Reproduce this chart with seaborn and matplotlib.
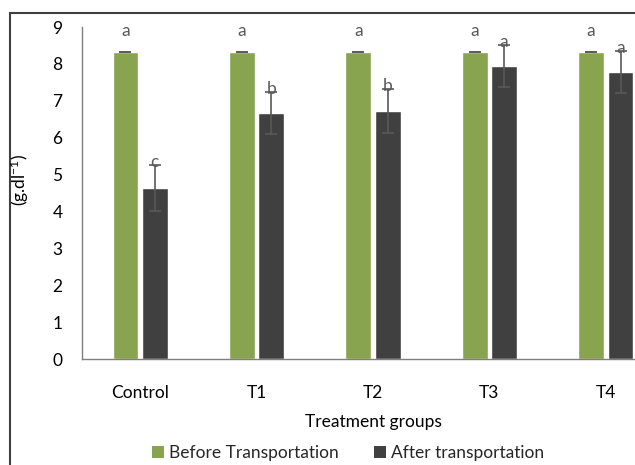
import matplotlib
matplotlib.use("Agg")
import matplotlib.pyplot as plt
import seaborn as sns
import pandas as pd
import numpy as np
from matplotlib.patches import Rectangle, Patch

groups = ["Control", "T1", "T2", "T3", "T4"]
before = [8.32, 8.32, 8.32, 8.32, 8.32]
before_err = [0.01, 0.01, 0.01, 0.01, 0.01]
after = [4.63, 6.67, 6.72, 7.94, 7.78]
after_err = [0.63, 0.58, 0.60, 0.58, 0.58]
before_letters = ["a", "a", "a", "a", "a"]
after_letters = ["c", "b", "b", "a", "a"]
series = ["Before Transportation", "After transportation"]

sns.set_theme(style="white")
plt.rcParams["font.family"] = ["Lato", "DejaVu Sans"]
plt.rcParams["mathtext.default"] = "regular"

df = pd.DataFrame({
    "group": groups * 2,
    "value": before + after,
    "series": [series[0]] * 5 + [series[1]] * 5,
})

green = "#88A44E"
dark = "#404040"
gray = "#595959"
fs = 12.5

fig = plt.figure(figsize=(6.35, 4.65), dpi=100)
ax = fig.add_axes([82/635, 1-359/465, 582/635, 332/465])

sns.barplot(data=df, x="group", y="value", hue="series", order=groups,
            hue_order=series, palette=[green, dark], width=0.506, gap=0.12,
            errorbar=None, ax=ax, legend=False, saturation=1)

patches = ax.patches
for i in range(5):
    pb = patches[i]
    pa = patches[5 + i]
    xb = pb.get_x() + pb.get_width() / 2
    xa = pa.get_x() + pa.get_width() / 2
    ax.errorbar(xb, before[i], yerr=before_err[i], color=gray, capsize=4, lw=1.2, capthick=1.2)
    ax.errorbar(xa, after[i], yerr=after_err[i], color=gray, capsize=4, lw=1.2, capthick=1.2)
    ax.text(xb, 8.68, before_letters[i], ha="center", va="bottom", fontsize=fs, color=gray)
    ax.text(xa, after[i] + after_err[i] - 0.14, after_letters[i], ha="center", va="bottom", fontsize=fs, color=gray)

ax.set_xlim(-0.5, 4.5)
ax.set_ylim(0, 9)
ax.set_yticks(range(0, 10))
ax.tick_params(axis="y", length=0, pad=14, labelsize=fs, labelcolor="black")
ax.tick_params(axis="x", length=0, pad=19, labelsize=fs, labelcolor="black")
for s in ["top", "right"]:
    ax.spines[s].set_visible(False)
for s in ["left", "bottom"]:
    ax.spines[s].set_color("#7f7f7f")
    ax.spines[s].set_linewidth(1.0)

ax.set_xlabel("Treatment groups", fontsize=fs, labelpad=9, color="black")
ax.set_ylabel("(g.dl$^{-1}$)", fontsize=fs, color="black")
ax.yaxis.set_label_coords(-0.088, 0.54)

handles = [Patch(facecolor=green, edgecolor="none"), Patch(facecolor=dark, edgecolor="none")]
fig.legend(handles, series, loc="center", bbox_to_anchor=(348/635, 1-453/465), ncol=2,
           frameon=False, fontsize=fs, handlelength=0.7, handleheight=0.7,
           handletextpad=0.3, columnspacing=2.0)

fig.patches.append(Rectangle((10/635, -0.1), 1.2, 1-13/465+0.1, transform=fig.transFigure,
                             fill=False, edgecolor="#404040", lw=1.5, zorder=-1))

fig.savefig("out.png", dpi=100)
